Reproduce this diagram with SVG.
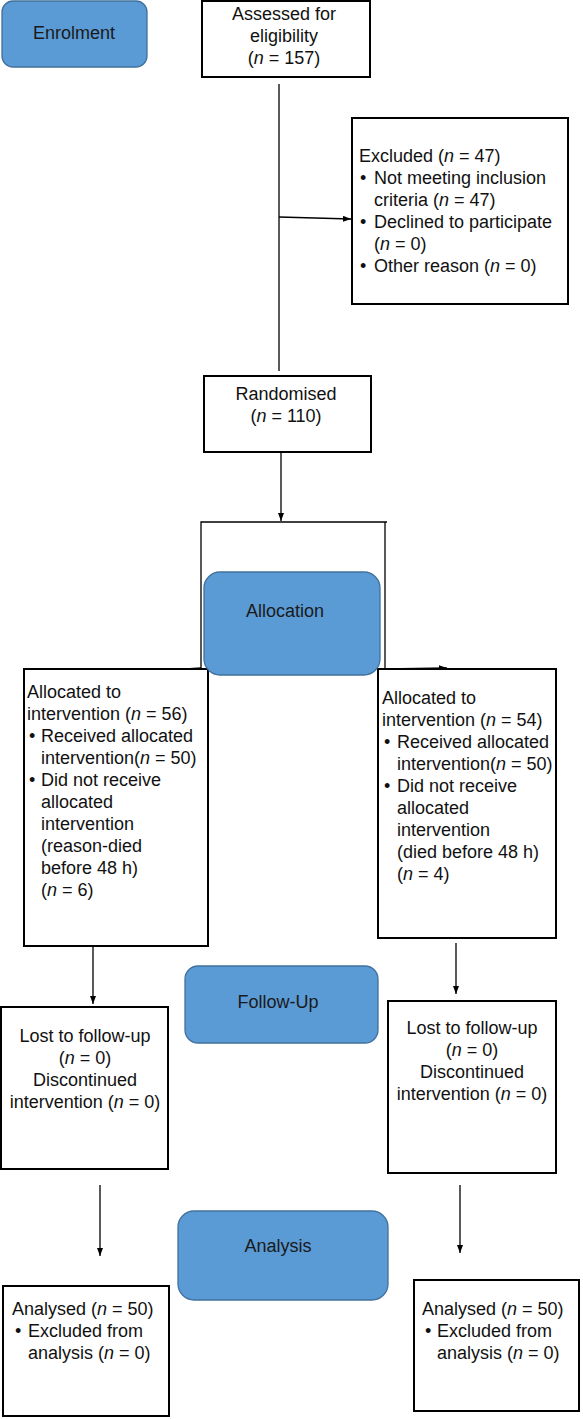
<svg xmlns="http://www.w3.org/2000/svg" width="583" height="1419" viewBox="0 0 583 1419">
<defs>
<marker id="ah" markerWidth="8" markerHeight="6" refX="8" refY="3" orient="auto" markerUnits="userSpaceOnUse">
<path d="M0,0 L8,3 L0,6 Z" fill="#000"/>
</marker>
<style>
.box{fill:#fff;stroke:#000;stroke-width:2}
.phase{fill:#5b9bd5;stroke:#41719c;stroke-width:1.3}
.t{font-family:"Liberation Sans",Arial,sans-serif;font-size:18px;fill:#111}
.c{text-anchor:middle}
.pt{font-family:"Liberation Sans",Arial,sans-serif;font-size:18px;fill:#1a1a1a;text-anchor:middle}
.i{font-style:italic}
.ln{fill:none;stroke:#000;stroke-width:1.3}
.arr{fill:none;stroke:#000;stroke-width:1.3;marker-end:url(#ah)}
</style>
</defs>
<rect width="583" height="1419" fill="#fff"/>

<g id="connectors">
<line class="ln" x1="279" y1="84" x2="279" y2="371"/>
<line class="arr" x1="279" y1="217" x2="351" y2="219"/>
<line class="arr" x1="281" y1="452" x2="281" y2="521"/>
<polyline class="ln" points="201,669 201,522 387,522"/>
<line class="ln" x1="385" y1="522" x2="385" y2="669"/>
<line class="arr" x1="201" y1="668" x2="140" y2="672"/>
<line class="arr" x1="385" y1="669" x2="447" y2="668"/>
<line class="arr" x1="93" y1="947" x2="93" y2="1004"/>
<line class="arr" x1="456" y1="943" x2="456" y2="994"/>
<line class="arr" x1="100" y1="1185" x2="100" y2="1256"/>
<line class="arr" x1="460" y1="1185" x2="460" y2="1253"/>
</g>

<g id="enrolment">
<rect class="phase" x="2" y="1" width="145" height="66" rx="11"/>
<text class="pt" x="74" y="39">Enrolment</text>
</g>

<g id="assessed">
<rect class="box" x="202" y="1" width="168" height="76"/>
<text class="t c" x="284" y="20">Assessed for</text>
<text class="t c" x="284" y="42">eligibility</text>
<text class="t c" x="284" y="64">(<tspan class="i">n</tspan> = 157)</text>
</g>

<g id="excluded">
<rect class="box" x="352" y="118" width="216" height="186"/>
<text class="t" x="359" y="162">Excluded (<tspan class="i">n</tspan> = 47)</text>
<text class="t" x="360" y="184">•</text>
<text class="t" x="374" y="184">Not meeting inclusion</text>
<text class="t" x="374" y="206">criteria (<tspan class="i">n</tspan> = 47)</text>
<text class="t" x="360" y="228">•</text>
<text class="t" x="374" y="228">Declined to participate</text>
<text class="t" x="374" y="250">(<tspan class="i">n</tspan> = 0)</text>
<text class="t" x="360" y="272">•</text>
<text class="t" x="374" y="272">Other reason (<tspan class="i">n</tspan> = 0)</text>
</g>

<g id="randomised">
<rect class="box" x="204" y="376" width="167" height="76"/>
<text class="t c" x="286" y="400">Randomised</text>
<text class="t c" x="286" y="422">(<tspan class="i">n</tspan> = 110)</text>
</g>

<g id="alloc-left">
<rect class="box" x="24" y="669" width="184" height="277"/>
<text class="t" x="27" y="698">Allocated to</text>
<text class="t" x="27" y="720">intervention (<tspan class="i">n</tspan> = 56)</text>
<text class="t" x="29" y="742">•</text>
<text class="t" x="41" y="742">Received allocated</text>
<text class="t" x="41" y="764">intervention(<tspan class="i">n</tspan> = 50)</text>
<text class="t" x="29" y="786">•</text>
<text class="t" x="41" y="786">Did not receive</text>
<text class="t" x="41" y="808">allocated</text>
<text class="t" x="41" y="830">intervention</text>
<text class="t" x="41" y="852">(reason-died</text>
<text class="t" x="41" y="874">before 48 h)</text>
<text class="t" x="41" y="896">(<tspan class="i">n</tspan> = 6)</text>
</g>

<g id="alloc-right">
<rect class="box" x="378" y="669" width="178" height="269"/>
<text class="t" x="382" y="704">Allocated to</text>
<text class="t" x="382" y="726">intervention (<tspan class="i">n</tspan> = 54)</text>
<text class="t" x="384" y="748">•</text>
<text class="t" x="397" y="748">Received allocated</text>
<text class="t" x="397" y="770">intervention(<tspan class="i">n</tspan> = 50)</text>
<text class="t" x="384" y="792">•</text>
<text class="t" x="397" y="792">Did not receive</text>
<text class="t" x="397" y="814">allocated</text>
<text class="t" x="397" y="836">intervention</text>
<text class="t" x="397" y="858">(died before 48 h)</text>
<text class="t" x="397" y="880">(<tspan class="i">n</tspan> = 4)</text>
</g>

<g id="allocation">
<rect class="phase" x="204" y="572" width="176" height="103" rx="16"/>
<text class="pt" x="285" y="617">Allocation</text>
</g>

<g id="followup">
<rect class="phase" x="185" y="966" width="193" height="77" rx="13"/>
<text class="pt" x="278" y="1008">Follow-Up</text>
</g>

<g id="follow-left">
<rect class="box" x="1" y="1007" width="167" height="162"/>
<text class="t c" x="85" y="1042">Lost to follow-up</text>
<text class="t c" x="85" y="1064">(<tspan class="i">n</tspan> = 0)</text>
<text class="t c" x="85" y="1086">Discontinued</text>
<text class="t c" x="85" y="1108">intervention (<tspan class="i">n</tspan> = 0)</text>
</g>

<g id="follow-right">
<rect class="box" x="388" y="1001" width="168" height="172"/>
<text class="t c" x="472" y="1034">Lost to follow-up</text>
<text class="t c" x="472" y="1056">(<tspan class="i">n</tspan> = 0)</text>
<text class="t c" x="472" y="1078">Discontinued</text>
<text class="t c" x="472" y="1100">intervention (<tspan class="i">n</tspan> = 0)</text>
</g>

<g id="analysis">
<rect class="phase" x="178" y="1211" width="210" height="89" rx="16"/>
<text class="pt" x="278" y="1252">Analysis</text>
</g>

<g id="analysis-left">
<rect class="box" x="3" y="1286" width="166" height="130"/>
<text class="t" x="12" y="1315">Analysed (<tspan class="i">n</tspan> = 50)</text>
<text class="t" x="15" y="1337">•</text>
<text class="t" x="28" y="1337">Excluded from</text>
<text class="t" x="28" y="1359">analysis (<tspan class="i">n</tspan> = 0)</text>
</g>

<g id="analysis-right">
<rect class="box" x="414" y="1280" width="165" height="131"/>
<text class="t" x="422" y="1315">Analysed (<tspan class="i">n</tspan> = 50)</text>
<text class="t" x="425" y="1337">•</text>
<text class="t" x="437" y="1337">Excluded from</text>
<text class="t" x="437" y="1359">analysis (<tspan class="i">n</tspan> = 0)</text>
</g>
</svg>
